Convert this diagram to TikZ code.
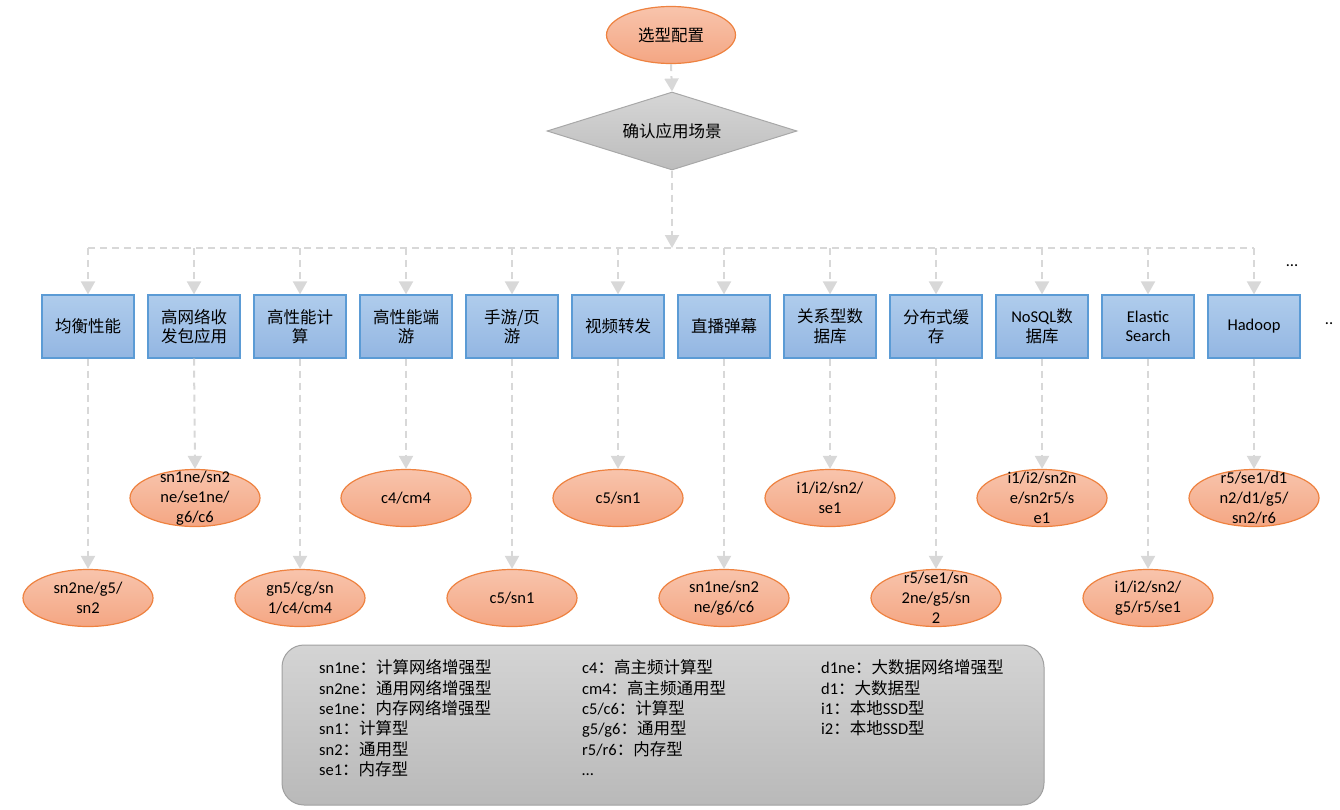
\documentclass[tikz,border=0pt]{standalone}
\usepackage{fontspec}
\setmainfont{Carlito}
\newfontfamily\zhfont{Noto Sans CJK SC}
\newcommand{\zh}[1]{{\zhfont #1}}
\usetikzlibrary{shapes.geometric,arrows.meta}
\definecolor{lineg}{HTML}{D8D8D8}
\definecolor{ovt}{HTML}{F8C4AC}
\definecolor{ovbo}{HTML}{F4A683}
\definecolor{ovb}{HTML}{EE8240}
\definecolor{boxt}{HTML}{AFCCEC}
\definecolor{boxbo}{HTML}{93B6E2}
\definecolor{boxb}{HTML}{5B9BD5}
\definecolor{dmt}{HTML}{D6D6D6}
\definecolor{dmb}{HTML}{BCBCBC}
\definecolor{dmborder}{HTML}{A8A8A8}
\definecolor{lgt}{HTML}{D4D4D4}
\definecolor{lgb}{HTML}{B9B9B9}
\definecolor{lgborder}{HTML}{A0A0A0}
\begin{document}
\begin{tikzpicture}[x=1pt,y=-1pt,
  font=\fontsize{16.5}{19.5}\selectfont,
  conn/.style={draw=lineg, line width=2pt, dash pattern=on 7pt off 5pt},
  arr/.style={conn, -{Triangle[width=14pt,length=13pt,fill=lineg]}},
  box/.style={rectangle, draw=boxb, line width=1.2pt, top color=boxt, bottom color=boxbo,
    minimum width=92pt, minimum height=63pt, inner sep=0pt, align=center},
  oval/.style={ellipse, draw=ovb, line width=1.2pt, top color=ovt, bottom color=ovbo,
    minimum width=130pt, minimum height=57pt, inner sep=0pt},
  ovtext/.style={align=center, inner sep=0pt, font=\fontsize{16.5}{20}\selectfont},
  legtext/.style={anchor=base west, inner sep=0pt},
]
\useasboundingbox (0,0) rectangle (1340,809);

% top
\node[oval, minimum width=129pt] (start) at (671,35) {\zh{选型配置}};
\node[diamond, draw=dmborder, line width=1pt, top color=dmt, bottom color=dmb,
  minimum width=250pt, minimum height=78pt, inner sep=0pt] (dia) at (672,131) {};
\node (diat) at (dia) {\zh{确认应用场景}};
\coordinate (bus) at (672,248);
\draw[arr] (start.south) -- (dia.north);
\draw[arr] (dia.south) -- (bus);

% boxes
\node[box] (b1) at (88,326.5) {\zh{均衡性能}};
\node[box] (b2) at (194,326.5) {\zh{高网络收}\\\zh{发包应用}};
\node[box] (b3) at (300,326.5) {\zh{高性能计}\\\zh{算}};
\node[box] (b4) at (406,326.5) {\zh{高性能端}\\\zh{游}};
\node[box] (b5) at (512,326.5) {\zh{手游/页}\\\zh{游}};
\node[box] (b6) at (618,326.5) {\zh{视频转发}};
\node[box] (b7) at (724,326.5) {\zh{直播弹幕}};
\node[box] (b8) at (830,326.5) {\zh{关系型数}\\\zh{据库}};
\node[box] (b9) at (936,326.5) {\zh{分布式缓}\\\zh{存}};
\node[box] (b10) at (1042,326.5) {NoSQL\zh{数}\\\zh{据库}};
\node[box] (b11) at (1148,326.5) {Elastic\\Search};
\node[box] (b12) at (1254,326.5) {Hadoop};

\draw[conn] (bus -| b1.north) -- (bus -| b12.north);
\foreach \i in {1,2,3,4,5,6,7,8,9,10,11,12} \draw[arr] (bus -| b\i.north) -- (b\i.north);

% ellipses
\node[oval] (e1) at (88,598) {};
\node[oval] (e2) at (195,498) {};
\node[oval] (e3) at (300,598) {};
\node[oval] (e4) at (406,498) {};
\node[oval] (e5) at (512,598) {};
\node[oval] (e6) at (618,498) {};
\node[oval] (e7) at (724,598) {};
\node[oval] (e8) at (830,498) {};
\node[oval] (e9) at (936,598) {};
\node[oval] (e10) at (1042,498) {};
\node[oval] (e11) at (1148,598) {};
\node[oval] (e12) at (1254,498) {};

\node[ovtext] (t1) at (e1) {sn2ne/g5/\\sn2};
\node[ovtext] (t2) at (e2) {sn1ne/sn2\\ne/se1ne/\\g6/c6};
\node[ovtext] (t3) at (e3) {gn5/cg/sn\\1/c4/cm4};
\node[ovtext] (t4) at (e4) {c4/cm4};
\node[ovtext] (t5) at (e5) {c5/sn1};
\node[ovtext] (t6) at (e6) {c5/sn1};
\node[ovtext] (t7) at (e7) {sn1ne/sn2\\ne/g6/c6};
\node[ovtext] (t8) at (e8) {i1/i2/sn2/\\se1};
\node[ovtext] (t9) at (e9) {r5/se1/sn\\2ne/g5/sn\\2};
\node[ovtext] (t10) at (e10) {i1/i2/sn2n\\e/sn2r5/s\\e1};
\node[ovtext] (t11) at (e11) {i1/i2/sn2/\\g5/r5/se1};
\node[ovtext] (t12) at (e12) {r5/se1/d1\\n2/d1/g5/\\sn2/r6};

\foreach \i in {1,2,3,4,5,6,7,8,9,10,11,12} \draw[arr] (b\i.south) -- (e\i.north);

% dots
\node (dots1) at (1292,266) {\ldots};
\node (dots2) at (1329,324) {..};

% legend
\node[rectangle, rounded corners=22pt, draw=lgborder, line width=1pt, top color=lgt, bottom color=lgb,
  minimum width=762pt, minimum height=160pt] (leg) at (663,725) {};

\node[legtext] (la1) at (319,673.8) {sn1ne\zh{：计算网络增强型}};
\node[legtext] (la2) at (319,694.1) {sn2ne\zh{：通用网络增强型}};
\node[legtext] (la3) at (319,714.4) {se1ne\zh{：内存网络增强型}};
\node[legtext] (la4) at (319,734.7) {sn1\zh{：计算型}};
\node[legtext] (la5) at (319,755.0) {sn2\zh{：通用型}};
\node[legtext] (la6) at (319,775.3) {se1\zh{：内存型}};

\node[legtext] (lb1) at (582,673.8) {c4\zh{：高主频计算型}};
\node[legtext] (lb2) at (582,694.1) {cm4\zh{：高主频通用型}};
\node[legtext] (lb3) at (582,714.4) {c5/c6\zh{：计算型}};
\node[legtext] (lb4) at (582,734.7) {g5/g6\zh{：通用型}};
\node[legtext] (lb5) at (582,755.0) {r5/r6\zh{：内存型}};
\node[legtext] (lb6) at (582,775.3) {\ldots};

\node[legtext] (lc1) at (821,673.8) {d1ne\zh{：大数据网络增强型}};
\node[legtext] (lc2) at (821,694.1) {d1\zh{：大数据型}};
\node[legtext] (lc3) at (821,714.4) {i1\zh{：本地}SSD\zh{型}};
\node[legtext] (lc4) at (821,734.7) {i2\zh{：本地}SSD\zh{型}};
\end{tikzpicture}
\end{document}
